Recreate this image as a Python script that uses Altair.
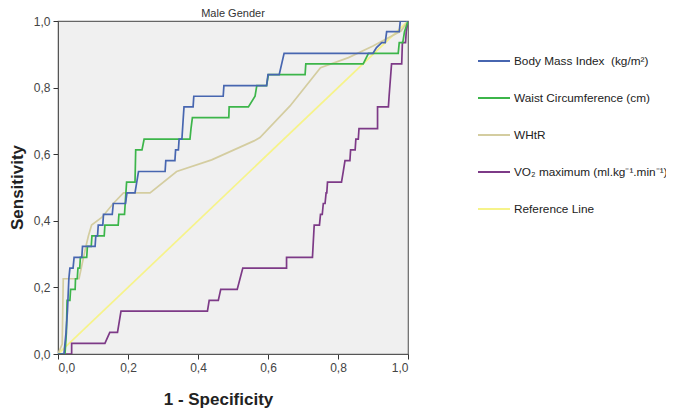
import altair as alt
import pandas as pd

series_names = [
    "Body Mass Index\u00a0 (kg/m²)",
    "Waist Circumference (cm)",
    "WHtR",
    "VO₂ maximum (ml.kg⁻¹.min⁻¹)",
    "Reference Line",
]
series_colors = ["#4766b0", "#3cb54a", "#d4cda0", "#7d3a87", "#f6f38a"]

bmi_x = [0, 0.017, 0.02, 0.023, 0.027, 0.031, 0.034, 0.043, 0.046, 0.068, 0.07, 0.106, 0.108, 0.113,
         0.115, 0.128, 0.13, 0.155, 0.158, 0.193, 0.197, 0.22, 0.225, 0.23, 0.306, 0.308, 0.334,
         0.336, 0.344, 0.346, 0.354, 0.358, 0.36, 0.386, 0.388, 0.472, 0.474, 0.596, 0.6, 0.632,
         0.646, 0.9, 0.91, 0.925, 0.935, 0.939, 0.972, 0.975, 0.978, 1.0]
bmi_y = [0, 0, 0.032, 0.065, 0.129, 0.226, 0.258, 0.258, 0.29, 0.29, 0.323, 0.323, 0.355, 0.355,
         0.387, 0.387, 0.419, 0.419, 0.452, 0.452, 0.484, 0.484, 0.516, 0.548, 0.548, 0.581, 0.581,
         0.613, 0.613, 0.645, 0.645, 0.71, 0.742, 0.742, 0.774, 0.774, 0.806, 0.806, 0.839, 0.839,
         0.903, 0.903, 0.92, 0.935, 0.935, 0.968, 0.968, 0.968, 1.0, 1.0]

wc_x = [0, 0.02, 0.024, 0.026, 0.034, 0.036, 0.049, 0.05, 0.055, 0.057, 0.062, 0.064, 0.082, 0.084,
        0.095, 0.097, 0.132, 0.134, 0.172, 0.174, 0.19, 0.192, 0.196, 0.22, 0.222, 0.24, 0.246,
        0.377, 0.38, 0.384, 0.488, 0.489, 0.544, 0.563, 0.568, 0.596, 0.601, 0.706, 0.708, 0.872,
        0.887, 0.972, 0.975, 0.985, 0.99, 1.0]
wc_y = [0, 0, 0.065, 0.161, 0.161, 0.194, 0.194, 0.226, 0.226, 0.258, 0.258, 0.29, 0.29, 0.323,
        0.323, 0.355, 0.355, 0.387, 0.387, 0.419, 0.419, 0.452, 0.516, 0.516, 0.613, 0.613, 0.645,
        0.645, 0.677, 0.71, 0.71, 0.742, 0.742, 0.774, 0.806, 0.806, 0.839, 0.839, 0.871, 0.871,
        0.903, 0.903, 0.935, 0.935, 0.968, 1.0]

whtr_x = [0, 0.012, 0.015, 0.06, 0.079, 0.087, 0.096, 0.125, 0.158, 0.187, 0.263, 0.339, 0.439,
          0.56, 0.577, 0.663, 0.75, 0.83, 0.9, 0.98, 1.0]
whtr_y = [0, 0.03, 0.226, 0.226, 0.32, 0.355, 0.387, 0.41, 0.452, 0.484, 0.484, 0.548, 0.583,
          0.64, 0.65, 0.745, 0.86, 0.89, 0.925, 0.97, 1.0]

vo2_x = [0, 0.039, 0.039, 0.134, 0.148, 0.17, 0.18, 0.427, 0.432, 0.458, 0.465, 0.512, 0.528,
         0.653, 0.653, 0.727, 0.732, 0.747, 0.75, 0.755, 0.758, 0.763, 0.766, 0.768, 0.77, 0.81,
         0.815, 0.82, 0.834, 0.836, 0.849, 0.851, 0.858, 0.86, 0.913, 0.913, 0.944, 0.946, 0.953,
         0.982, 0.984, 0.993, 0.995, 1.0]
vo2_y = [0, 0, 0.032, 0.032, 0.065, 0.065, 0.129, 0.129, 0.161, 0.161, 0.194, 0.194, 0.258,
         0.258, 0.29, 0.29, 0.387, 0.387, 0.419, 0.419, 0.452, 0.452, 0.484, 0.484, 0.516, 0.516,
         0.548, 0.581, 0.581, 0.613, 0.613, 0.645, 0.645, 0.677, 0.677, 0.742, 0.742, 0.774, 0.871,
         0.871, 0.935, 0.935, 0.968, 1.0]

ref_x = [0, 1]
ref_y = [0, 1]

axis_ticks = [0, 0.2, 0.4, 0.6, 0.8, 1.0]

rows = []
for name, xs, ys in [
    (series_names[4], ref_x, ref_y),
    (series_names[3], vo2_x, vo2_y),
    (series_names[2], whtr_x, whtr_y),
    (series_names[1], wc_x, wc_y),
    (series_names[0], bmi_x, bmi_y),
]:
    for i, (a, b) in enumerate(zip(xs, ys)):
        rows.append({"series": name, "idx": i, "x": a, "y": b})
df = pd.DataFrame(rows)

FONT = "Liberation Sans"
label_expr = "replace(format(datum.value, '.1f'), '.', ',')"

chart = alt.Chart(df).mark_line(strokeWidth=1.7, clip=True).encode(
    x=alt.X("x:Q", scale=alt.Scale(domain=[0, 1], nice=False, zero=False),
            axis=alt.Axis(values=axis_ticks, labelExpr=label_expr, title="1 - Specificity",
                          titleX=160, titleY=50, titleAnchor="start", titleAlign="center",
                          titleBaseline="alphabetic")),
    y=alt.Y("y:Q", scale=alt.Scale(domain=[0, 1], nice=False, zero=False),
            axis=alt.Axis(values=axis_ticks, labelExpr=label_expr, title="Sensitivity",
                          titleX=-41, titleY=166, titleAngle=-90, titleAlign="center",
                          titleBaseline="middle")),
    color=alt.Color("series:N",
                    scale=alt.Scale(domain=series_names, range=series_colors),
                    legend=alt.Legend(title=None, orient="none", legendX=419, legendY=23,
                                      symbolType="stroke", symbolSize=1024, symbolStrokeWidth=2,
                                      rowPadding=13, labelFontSize=11.8, labelFont=FONT,
                                      labelColor="#222222", labelLimit=0, labelOffset=3)),
    detail="series:N",
    order=alt.Order("idx:Q"),
).properties(
    width=350,
    height=333,
    title=alt.TitleParams("Male Gender", fontSize=11, fontWeight="normal", font=FONT,
                          color="#333333", offset=-4, anchor="middle"),
    autosize=alt.AutoSizeParams(type="none"),
    padding={"left": 50, "top": 13, "right": 258, "bottom": 54},
).configure_view(
    fill="#f0f0f0", stroke="#666666", strokeWidth=1.2
).configure_axis(
    grid=False, domainColor="#555555", tickColor="#333333", tickSize=5,
    labelFont=FONT, labelFontSize=12, labelColor="#444444", labelPadding=3,
    titleFont=FONT, titleFontSize=17, titleFontWeight="bold", titleColor="#222222",
)

chart.save("out.html", embed_options={"renderer": "svg", "actions": False})
